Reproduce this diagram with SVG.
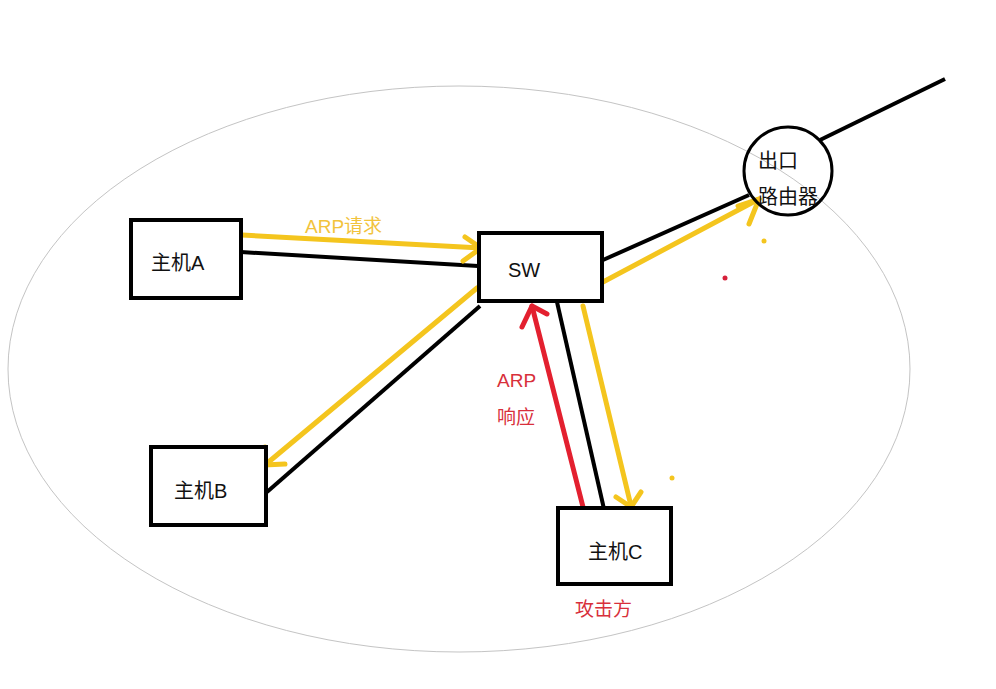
<svg xmlns="http://www.w3.org/2000/svg" width="996" height="689" viewBox="0 0 996 689">
<style>
.box{fill:#fff;stroke:#000;stroke-width:4}
.t{font-family:"Liberation Sans","Noto Sans CJK SC",sans-serif;font-size:20px;fill:#111}
.blk{stroke:#000;stroke-width:4;fill:none;stroke-linecap:butt}
.yel{stroke:#F4C51E;stroke-width:5;fill:none;stroke-linecap:round;stroke-linejoin:round}
.red{stroke:#E3202F;stroke-width:5;fill:none;stroke-linecap:round;stroke-linejoin:round}
.lr{font-family:"Liberation Sans","Noto Sans CJK SC",sans-serif;font-size:19px;fill:#D8303B}
.ly{font-family:"Liberation Sans","Noto Sans CJK SC",sans-serif;font-size:19px;fill:#F2C33C}
</style>
<rect width="996" height="689" fill="#fff"/>
<ellipse cx="459" cy="369" rx="451" ry="283" fill="none" stroke="#c4c4c4" stroke-width="1"/>
<g id="connectors">
<line class="blk" x1="820" y1="140" x2="945" y2="79"/>
<line class="blk" x1="603" y1="260" x2="749" y2="195"/>
<line class="yel" x1="603" y1="282" x2="759" y2="199"/>
<polyline class="yel" points="738,206 759,199 749,224"/>
<line class="blk" x1="241" y1="252" x2="478" y2="266"/>
<line class="yel" x1="242" y1="235" x2="481" y2="248"/>
<polyline class="yel" points="465,237 481,248 463,261"/>
<line class="blk" x1="480" y1="306" x2="267" y2="492"/>
<line class="yel" x1="477" y1="288" x2="265" y2="465"/>
<polyline class="yel" points="265,447 264,465 285,464"/>
<line class="red" x1="583" y1="507" x2="532" y2="306"/>
<polyline class="red" points="522,327 532,306 547,314"/>
<line class="blk" x1="557" y1="302" x2="604" y2="509"/>
<line class="yel" x1="583" y1="306" x2="631" y2="506"/>
<polyline class="yel" points="616,497 631,507 641,492"/>
</g>
<circle cx="764" cy="241" r="2.5" fill="#F4C51E"/>
<circle cx="725" cy="278" r="2.5" fill="#D6203A"/>
<circle cx="672" cy="478" r="2.5" fill="#F4C51E"/>
<text class="ly" x="305" y="233">ARP请求</text>
<text class="lr" x="497" y="387">ARP</text>
<text class="lr" x="497" y="424">响应</text>
<text class="lr" x="575" y="616">攻击方</text>
<g id="hostA">
<rect class="box" x="131" y="220" width="110" height="78"/>
<text class="t" x="151" y="270">主机A</text>
</g>
<g id="sw">
<rect class="box" x="479" y="233" width="123" height="68"/>
<text class="t" x="508" y="277">SW</text>
</g>
<g id="hostB">
<rect class="box" x="151" y="447" width="115" height="78"/>
<text class="t" x="174" y="498">主机B</text>
</g>
<g id="hostC">
<rect class="box" x="558" y="508" width="113" height="76"/>
<text class="t" x="588" y="559">主机C</text>
</g>
<g id="router">
<circle cx="788" cy="171" r="44" fill="none" stroke="#000" stroke-width="3"/>
<text class="t" x="758" y="168">出口</text>
<text class="t" x="758" y="204">路由器</text>
</g>
</svg>
